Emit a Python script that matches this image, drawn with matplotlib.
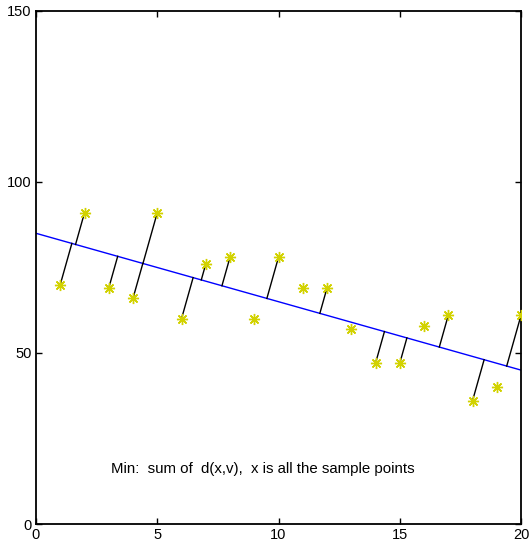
import numpy as np
import matplotlib
matplotlib.use('Agg')
import matplotlib.pyplot as plt

plt.rcParams['font.family'] = ['Liberation Sans', 'DejaVu Sans']

# sample points
xs = [1, 2, 3, 4, 5, 6, 7, 8, 9, 10, 11, 12, 13, 14, 15, 16, 17, 18, 19, 20]
ys = [70, 91, 69, 66, 91, 60, 76, 78, 60, 78, 69, 69, 57, 47, 47, 58, 61, 36, 40, 61]
# points that get a distance segment drawn to the line
linked = [1, 2, 3, 4, 5, 6, 7, 8, 10, 12, 14, 15, 17, 18, 20]

# fitted line end points
line_x = [0, 20]
line_y = [85, 45]

note = 'Min:  sum of  d(x,v),  x is all the sample points'

fig = plt.figure(figsize=(5.31, 5.52), dpi=100)
ax = fig.add_axes([36/531, 28/552, 485/531, 513/552])
ax.set_xlim(0, 20)
ax.set_ylim(0, 150)

ax.plot(line_x, line_y, color='#0000ff', lw=1.0, zorder=2)

# perpendicular (screen space) foot of each linked point on the line
tr = ax.transData
a = tr.transform((line_x[0], line_y[0]))
b = tr.transform((line_x[1], line_y[1]))
d = (b - a) / np.linalg.norm(b - a)
for x, y in zip(xs, ys):
    if x not in linked:
        continue
    p = tr.transform((x, y))
    foot = a + np.dot(p - a, d) * d
    fx, fy = tr.inverted().transform(foot)
    ax.plot([x, fx], [y, fy], color='black', lw=1.0, zorder=3)

ax.plot(xs, ys, linestyle='none', marker=(8, 2, 0), markersize=8,
        markeredgecolor='#d2d200', markeredgewidth=1.0, zorder=4)

ax.text(3.1, 16, note, fontsize=10.8, ha='left', va='center')

ax.set_xticks([0, 5, 10, 15, 20])
ax.set_yticks([0, 50, 100, 150])
ax.tick_params(direction='in', top=True, right=True, length=4, width=1,
               labelsize=10.5, pad=3)
for s in ax.spines.values():
    s.set_linewidth(1.3)

fig.savefig('out.png', dpi=100)
